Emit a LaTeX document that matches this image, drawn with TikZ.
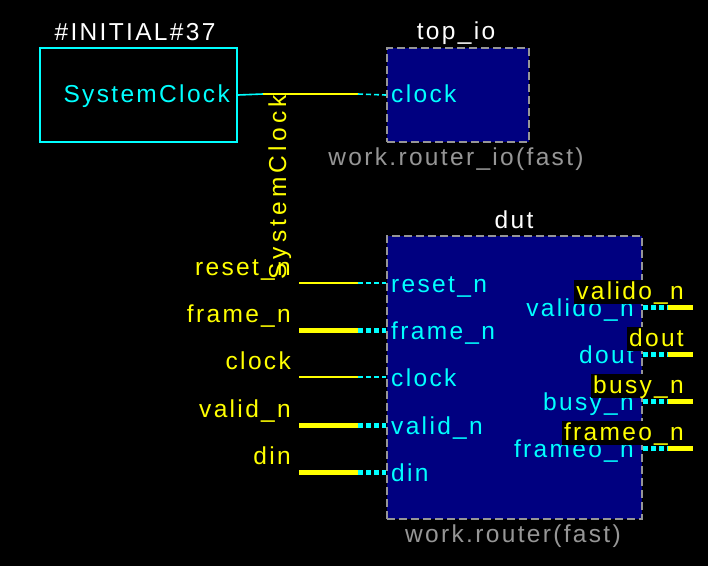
\documentclass[tikz,border=0pt]{standalone}
\usepackage{fontspec}
\setmainfont{Liberation Sans}[LetterSpace=9.5]
\newfontfamily\widefont{Liberation Sans}[LetterSpace=17]
\definecolor{navy}{RGB}{0,0,128}
\definecolor{cy}{RGB}{0,255,255}
\definecolor{yl}{RGB}{255,255,0}
\definecolor{gr}{RGB}{150,150,150}
\begin{document}
\begin{tikzpicture}[x=1pt,y=-1pt,
  txt/.style={font=\fontsize{24.5}{29}\selectfont, inner sep=0pt},
  inst/.style={draw=gr, line width=2pt, dash pattern=on 8pt off 4pt, fill=navy, inner sep=0pt, anchor=north west},
  thinY/.style={draw=yl, line width=1.6pt},
  thickY/.style={draw=yl, line width=5pt},
  thinC/.style={draw=cy, line width=1.6pt, dash pattern=on 5pt off 3pt},
  thickC/.style={draw=cy, line width=5pt, dash pattern=on 5pt off 3pt},
  outlbl/.style={txt, text=yl},
  inlbl/.style={txt, text=cy},
  hdr/.style={txt, text=white, anchor=base},
  lib/.style={txt, text=gr, anchor=base}]
\fill[black] (0,0) rectangle (708,566);
\useasboundingbox (0,0) rectangle (708,566);
% INITIAL box
\node[draw=cy, line width=2pt, inner sep=0pt, minimum width=197pt, minimum height=94pt, anchor=north west] (init) at (39,47) {};
\node[hdr] (initname) at (135,40) {\#INITIAL\#37};
\node[inlbl, anchor=base east] (initport) at (230,102) {SystemClock};
% top_io
\node[inst, minimum width=142pt, minimum height=94pt] (topio) at (386,47) {};
\node[hdr] (topioname) at (456,39) {top\_io};
\node[lib] (topiolib) at (456,165) {work.router\_io(fast)};
\node[inlbl, anchor=base west] (topioclk) at (391,102) {clock};
% connection SystemClock
\coordinate (j0) at (263,94);
\coordinate (j1) at (358,94);
\draw[draw=cy, line width=1.6pt] (init.east) -- (j0);
\draw[thinY] (j0) -- (j1);
\draw[thinC] (j1) -- (topio.west);
% dut
\node[inst, minimum width=255pt, minimum height=283pt] (dut) at (386,235) {};
\node[hdr] (dutname) at (514,228) {dut};
\node[lib] (dutlib) at (513,542) {work.router(fast)};
% left ports
\foreach \nm/\yy/\w [count=\k] in {reset\_n/283/thin, frame\_n/330/thick, clock/377/thin, valid\_n/425/thick, din/472/thick}{
  \coordinate (ls\k) at (299,\yy);
  \coordinate (lm\k) at (358,\yy);
  \draw[\w Y] (ls\k) -- (lm\k);
  \draw[\w C] (lm\k) -- (dut.west |- lm\k);
  \node[inlbl, anchor=base west] (lp\k) at (391,\yy+9) {\nm};
  \node[outlbl, anchor=base east] (ln\k) at (291,\yy-8) {\nm};
}
% rotated net name
\node[txt, text=yl, font=\fontsize{24.5}{29}\widefont, rotate=90, anchor=base west] (netname) at (286,280) {SystemClock};
% right ports
\foreach \nm/\yy [count=\k] in {valido\_n/307, dout/354, busy\_n/401, frameo\_n/448}{
  \coordinate (rm\k) at (668,\yy);
  \coordinate (re\k) at (693,\yy);
  \node[inlbl, anchor=base east] (rp\k) at (634,\yy+9) {\nm};
  \draw[thickC] (dut.east |- rm\k) -- (rm\k);
  \draw[thickY] (rm\k) -- (re\k);
  \node[outlbl, anchor=base east, fill=black, inner xsep=2pt, inner ysep=0pt, text height=19pt, text depth=5pt] (rn\k) at (686,\yy-8) {\nm};
}
\end{tikzpicture}
\end{document}
